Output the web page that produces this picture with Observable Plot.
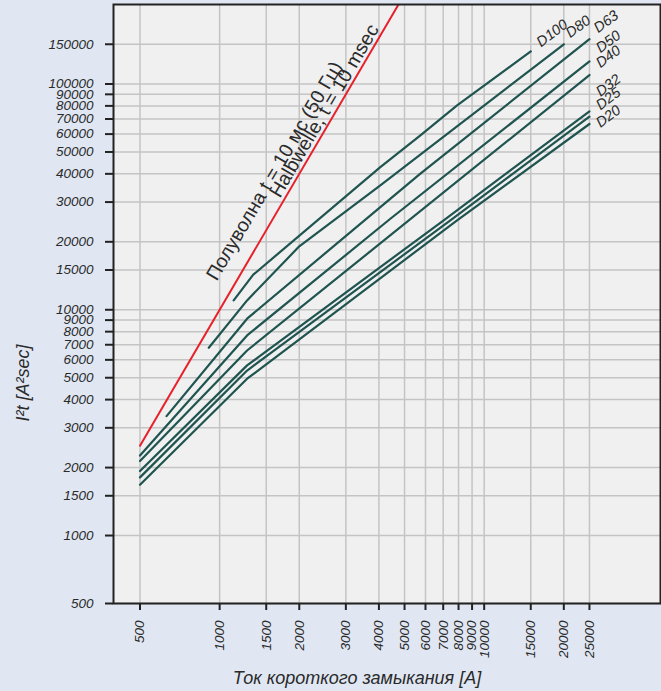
<!DOCTYPE html>
<html><head><meta charset="utf-8">
<script src="https://cdn.jsdelivr.net/npm/d3@7"></script>
<script src="https://cdn.jsdelivr.net/npm/@observablehq/plot@0.6"></script>
<style>
html,body{margin:0;padding:0;background:#e0e7f3;}
#chart svg{display:block;}
</style></head><body><div id="chart"></div>
<script>
// Tick values
const xTicks = [500,1000,1500,2000,3000,4000,5000,6000,7000,8000,9000,10000,15000,20000,25000];
const yTicks = [500,1000,1500,2000,3000,4000,5000,6000,7000,8000,9000,10000,15000,20000,30000,40000,50000,60000,70000,80000,90000,100000,150000];

// Series: short-circuit current [A] and let-through energy I²t [A²s]
const seriesNames = ["D20","D25","D32","D40","D50","D63","D80","D100"];
const currentD20 = [500,1270,7900,25000];
const energyD20  = [1680,4950,24900,66500];
const currentD25 = [500,1270,7450,25000];
const energyD25  = [1810,5380,24900,71700];
const currentD32 = [500,1270,7030,25000];
const energyD32  = [1930,5670,24900,75700];
const currentD40 = [500,1270,25000];
const energyD40  = [2140,6600,109600];
const currentD50 = [500,1270,4420,25000];
const energyD50  = [2260,7700,25300,126000];
const currentD63 = [630,1270,4050,5740,25000];
const energyD63  = [3380,9130,28500,40100,158000];
const currentD80 = [910,1270,2000,4050,20000];
const energyD80  = [6790,11000,19100,35600,150000];
const currentD100 = [1130,1340,4050,5740,7900,15000];
const energyD100  = [11000,14300,42850,59200,80400,139500];

// Half-wave line (t = 10 ms)
const halfWaveCurrent = [500, 5000];
const halfWaveEnergy  = [2500, 250000];
const halfWaveTexts = ["Полуволна t = 10 мс (50 Гц)", "Halbwelle, t = 10 msec"];
const halfWaveTextCurrent = [975, 1690];
const halfWaveTextEnergy  = [13300, 31000];

// Curve label anchors
const labelCurrent = [27500, 27500, 27500, 27500, 27500, 27000, 21170, 16400];
const labelEnergy  = [63800, 76400, 87500, 117300, 136700, 167700, 159300, 145300];

const xLabel = "Ток короткого замыкания [А]";
const yLabel = "I²t [A²sec]";

// Build tables
const seriesCurrents = [currentD20,currentD25,currentD32,currentD40,currentD50,currentD63,currentD80,currentD100];
const seriesEnergies = [energyD20,energyD25,energyD32,energyD40,energyD50,energyD63,energyD80,energyD100];
const curves = seriesNames.flatMap((name, i) =>
  seriesCurrents[i].map((c, j) => ({name, current: c, energy: seriesEnergies[i][j]})));
const halfWave = halfWaveCurrent.map((c, j) => ({current: c, energy: halfWaveEnergy[j]}));
const halfWaveLabels = halfWaveTexts.map((t, i) => ({text: t, current: halfWaveTextCurrent[i], energy: halfWaveTextEnergy[i]}));
const curveLabels = seriesNames.map((n, i) => ({text: n, current: labelCurrent[i], energy: labelEnergy[i]}));

const teal = "#1f5450";
const ink = "#2a2a2a";

const chart = Plot.plot({
  width: 661,
  height: 691,
  marginLeft: 113,
  marginTop: 4,
  marginRight: 1,
  marginBottom: 88,
  style: {background: "#e0e7f3", fontFamily: "'Liberation Sans', Arial, sans-serif", fontSize: "14px", color: ink},
  x: {type: "log", domain: [397, 46400]},
  y: {type: "log", domain: [500, 225000]},
  marks: [
    Plot.frame({fill: "#f0f0f0"}),
    Plot.gridX(xTicks, {stroke: "#c4c4c4", strokeOpacity: 1, strokeWidth: 1.5}),
    Plot.gridY(yTicks, {stroke: "#c4c4c4", strokeOpacity: 1, strokeWidth: 1.5}),
    Plot.line(halfWave, {x: "current", y: "energy", stroke: "#e8202a", strokeWidth: 2, clip: true}),
    Plot.line(curves, {x: "current", y: "energy", z: "name", stroke: teal, strokeWidth: 2.2}),
    Plot.text(halfWaveLabels, {x: "current", y: "energy", text: "text", rotate: -59.6, textAnchor: "start", lineAnchor: "bottom", fontSize: 19.5, fill: ink}),
    Plot.text(curveLabels, {x: "current", y: "energy", text: "text", rotate: -37, textAnchor: "start", lineAnchor: "bottom", fontSize: 14.5, fontStyle: "italic", fill: ink}),
    Plot.frame({stroke: "#222", strokeWidth: 2}),
    Plot.axisY(yTicks, {tickSize: 8, text: null, strokeWidth: 2, stroke: "#222", label: null}),
    Plot.axisX(xTicks, {tickSize: 7, text: null, strokeWidth: 2, stroke: "#222", label: null}),
    Plot.text(yTicks, {y: d => d, text: d => String(d), frameAnchor: "left", dx: -20, textAnchor: "end", lineAnchor: "middle", fontSize: 13.5, fontStyle: "italic", fill: ink}),
    Plot.text(xTicks, {x: d => d, text: d => String(d), frameAnchor: "bottom", dy: 17, rotate: -90, textAnchor: "end", lineAnchor: "middle", fontSize: 13.5, fontStyle: "italic", fill: ink}),
    Plot.text([xLabel], {frameAnchor: "bottom", dx: -30, dy: 75, lineAnchor: "middle", textAnchor: "middle", fontSize: 18, fontStyle: "italic", fill: ink}),
    Plot.text([yLabel], {frameAnchor: "left", dx: -90, dy: 79, rotate: -90, lineAnchor: "middle", textAnchor: "middle", fontSize: 18, fontStyle: "italic", fill: ink})
  ]
});
document.getElementById("chart").appendChild(chart);
</script>
</body></html>
